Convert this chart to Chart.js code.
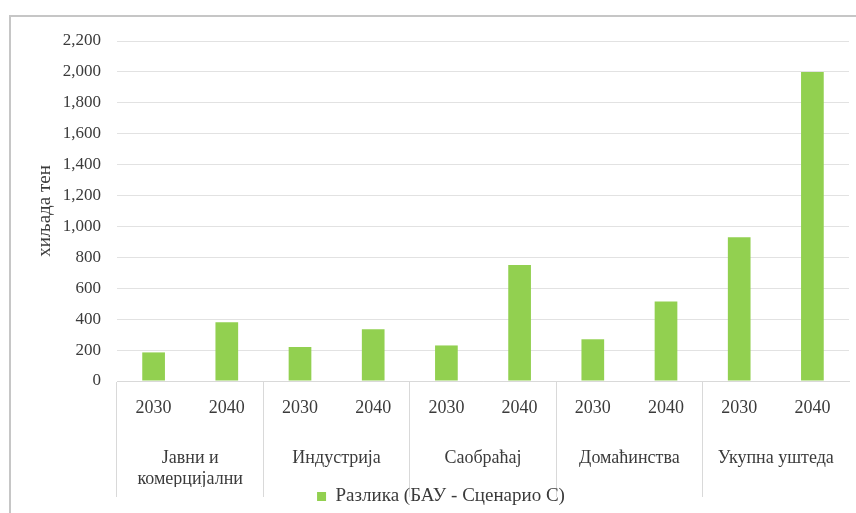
<!DOCTYPE html>
<html>
<head>
<meta charset="utf-8">
<script src="https://cdn.jsdelivr.net/npm/chart.js"></script>
<style>
  html, body { margin: 0; padding: 0; background: #fff; }
  #wrap { position: relative; width: 856px; height: 513px; overflow: hidden; }
  #frame { position: absolute; left: 9px; top: 15px; width: 900px; height: 600px;
           border-left: 2px solid #c6c6c6; border-top: 2px solid #c6c6c6; }
  canvas { position: absolute; left: 0; top: 0; }
</style>
</head>
<body>
<div id="wrap">
  <div id="frame"></div>
  <canvas id="chart" width="856" height="513"></canvas>
</div>
<script>
// categories (second level of x axis)
const categories = [['Јавни и', 'комерцијални'], 'Индустрија', 'Саобраћај', 'Домаћинства', 'Укупна уштеда'];
// years (first level of x axis), one per bar
const yearLabels = ['2030', '2040', '2030', '2040', '2030', '2040', '2030', '2040', '2030', '2040'];
// Разлика (БАУ - Сценарио С), хиљада тен
const savings = [185, 380, 220, 335, 230, 750, 270, 515, 930, 2000];

const seriesName = 'Разлика (БАУ - Сценарио С)';
const textColor = '#3b3b3b';
const gridColor = '#e2e2e2';
const serif = "'Liberation Serif', 'Times New Roman', serif";

const ctx = document.getElementById('chart').getContext('2d');
new Chart(ctx, {
    type: 'bar',
    data: {
        labels: yearLabels,
        datasets: [{
            label: seriesName,
            data: savings,
            backgroundColor: '#92d050',
            borderWidth: 0,
            categoryPercentage: 1,
            barPercentage: 0.31,
            xAxisID: 'x',
        }],
    },
    options: {
        responsive: false,
        animation: false,
        layout: {
            padding: { left: 33, right: 7, top: 41, bottom: -3 },
        },
        plugins: {
            legend: {
                position: 'bottom',
                labels: {
                    boxWidth: 9,
                    boxHeight: 9,
                    padding: 0,
                    color: textColor,
                    font: { family: serif, size: 19 },
                },
            },
            tooltip: { enabled: false },
        },
        scales: {
            x: {
                position: 'bottom',
                offset: true,
                grid: {
                    offset: true,
                    drawOnChartArea: false,
                    drawTicks: true,
                    tickLength: 116,
                    // only the boundaries between categories
                    color: c => (c.index % 2 === 0 ? '#d9d9d9' : 'transparent'),
                },
                border: { display: true, color: '#d9d9d9' },
                ticks: {
                    autoSkip: false,
                    maxRotation: 0,
                    padding: -100,
                    color: textColor,
                    font: { family: serif, size: 18 },
                },
                afterFit: s => { s.height = 36; },
            },
            x2: {
                type: 'category',
                labels: categories,
                position: 'bottom',
                offset: true,
                grid: {
                    drawOnChartArea: false,
                    drawTicks: true,
                    tickLength: 31,
                    color: 'transparent',
                },
                border: { display: false },
                ticks: {
                    autoSkip: false,
                    maxRotation: 0,
                    padding: 0,
                    color: textColor,
                    font: { family: serif, size: 18, lineHeight: 1.17 },
                },
                afterFit: s => { s.height = 70; },
            },
            y: {
                min: 0,
                max: 2200,
                ticks: {
                    stepSize: 200,
                    padding: 16,
                    color: textColor,
                    font: { family: serif, size: 17 },
                },
                grid: { color: gridColor, drawTicks: false },
                border: { display: false },
                title: {
                    display: true,
                    text: 'хиљада тен',
                    color: textColor,
                    font: { family: serif, size: 19 },
                    padding: { top: 1, bottom: 0 },
                },
                afterFit: s => { s.width = 84; },
            },
        },
    },
});
</script>
</body>
</html>
